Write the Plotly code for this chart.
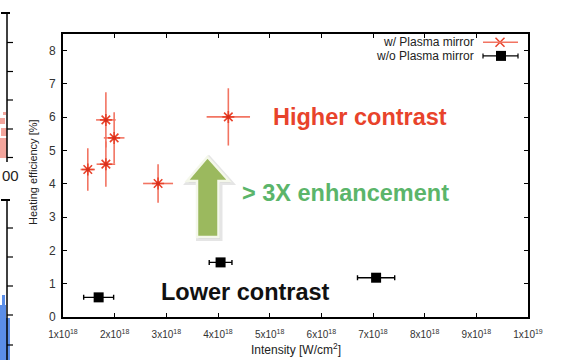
import plotly.graph_objects as go

# Heating efficiency vs. laser intensity, with and without a plasma mirror
intensity_pm = [1.48e18, 1.83e18, 1.83e18, 1.99e18, 2.84e18, 4.20e18]
intensity_pm_err = [0.14e18, 0.19e18, 0.18e18, 0.20e18, 0.29e18, 0.42e18]
efficiency_pm = [4.43, 5.92, 4.59, 5.38, 4.01, 6.01]
efficiency_pm_err = [0.64, 0.83, 0.68, 0.77, 0.58, 0.86]

intensity_nopm = [1.69e18, 4.05e18, 7.06e18]
intensity_nopm_err = [0.29e18, 0.22e18, 0.36e18]
efficiency_nopm = [0.59, 1.64, 1.18]

x_tick_vals = [1e18, 2e18, 3e18, 4e18, 5e18, 6e18, 7e18, 8e18, 9e18, 1e19]
x_tick_text = ["1x10<sup>18</sup>", "2x10<sup>18</sup>", "3x10<sup>18</sup>",
               "4x10<sup>18</sup>", "5x10<sup>18</sup>", "6x10<sup>18</sup>",
               "7x10<sup>18</sup>", "8x10<sup>18</sup>", "9x10<sup>18</sup>",
               "1x10<sup>19</sup>"]
y_tick_vals = [0, 1, 2, 3, 4, 5, 6, 7, 8]

series_names = ["w/ Plasma mirror", "w/o Plasma mirror"]

W, H = 565, 360
L, R, T, B = 63, 528, 34, 317

RED = "#e8432b"
RED_BAR = "#f27462"
GREEN_TXT = "#5bb56a"
ARROW = "#9bb95e"
FONT = "Liberation Sans, Arial, sans-serif"


def px(x):
    """Page pixel column -> paper fraction."""
    return (x - L) / (R - L)


def py(y):
    """Page pixel row -> paper fraction."""
    return (B - y) / (B - T)


fig = go.Figure()

fig.add_trace(go.Scatter(
    x=intensity_pm, y=efficiency_pm, mode="markers", name=series_names[0],
    marker=dict(symbol="asterisk-open", size=10, color=RED,
                line=dict(color=RED, width=1.6)),
    error_x=dict(type="data", array=intensity_pm_err, color=RED_BAR,
                 thickness=1.6, width=0),
    error_y=dict(type="data", array=efficiency_pm_err, color=RED_BAR,
                 thickness=1.6, width=0),
    showlegend=False,
))
fig.add_trace(go.Scatter(
    x=intensity_pm, y=efficiency_pm, mode="markers", showlegend=False,
    marker=dict(symbol="circle", size=4, color="#d9301c"),
    hoverinfo="skip",
))
fig.add_trace(go.Scatter(
    x=intensity_nopm, y=efficiency_nopm, mode="markers", name=series_names[1],
    marker=dict(symbol="square", size=10, color="black"),
    error_x=dict(type="data", array=intensity_nopm_err, color="black",
                 thickness=1.4, width=2.5),
    showlegend=False,
))

# Key samples on an overlay axis pair measured in page pixels
fig.add_trace(go.Scatter(
    x=[500], y=[42.3], xaxis="x2", yaxis="y2", mode="markers",
    marker=dict(symbol="x-thin-open", size=9, color=RED, line=dict(color=RED, width=1.5)),
    showlegend=False, hoverinfo="skip",
))
fig.add_trace(go.Scatter(
    x=[501], y=[55.9], xaxis="x2", yaxis="y2", mode="markers",
    marker=dict(symbol="square", size=10, color="black"),
    showlegend=False, hoverinfo="skip",
))


def pline(x0, y0, x1, y1, color, width):
    return dict(type="line", xref="paper", yref="paper",
                x0=px(x0), x1=px(x1), y0=py(y0), y1=py(y1),
                line=dict(color=color, width=width))


def prect(x0, y0, x1, y1, color):
    return dict(type="rect", xref="paper", yref="paper",
                x0=px(x0), x1=px(x1), y0=py(y0), y1=py(y1),
                fillcolor=color, line=dict(width=0), layer="below")


shapes = []
# key lines
shapes.append(pline(483, 42.3, 518, 42.3, RED_BAR, 1.5))
shapes.append(pline(483, 55.9, 518, 55.9, "black", 1.4))
for xx in (483, 518):
    shapes.append(pline(xx, 53.4, xx, 58.4, "black", 1.2))

# upward block arrow
arrow_pts = [(207.5, 157), (229, 181), (218.5, 181), (218.5, 237),
             (197, 237), (197, 181), (187, 181)]
shadow = "M " + " L ".join(f"{px(x + 1.5)},{py(y + 1.5)}" for x, y in arrow_pts) + " Z"
body = "M " + " L ".join(f"{px(x)},{py(y)}" for x, y in arrow_pts) + " Z"
shapes.append(dict(type="path", xref="paper", yref="paper", path=shadow,
                   fillcolor="rgba(0,0,0,0.12)", line=dict(color="rgba(0,0,0,0.10)", width=5)))
shapes.append(dict(type="path", xref="paper", yref="paper", path=body,
                   fillcolor=ARROW, line=dict(color="#f4f7ea", width=2.5)))

# fragments of neighbouring panels at the left edge
for (y0, y1, ticks) in [(13, 162, [42.5, 71.5, 100, 129, 157.5]),
                        (200, 362, [228, 257, 286, 315, 345])]:
    shapes.append(pline(7, y0, 7, y1, "black", 1.5))
    shapes.append(pline(1, y0, 10, y0, "black", 2))
    for ty in ticks:
        shapes.append(pline(7, ty, 13, ty, "black", 1.2))
for (bx, by, bw, bh) in [(0, 118, 5, 6), (1, 128, 6, 8), (0, 138, 7, 20), (3, 112, 3, 3)]:
    shapes.append(prect(bx, by, bx + bw, by + bh, "#f3a59c"))
for (bx, by, bw, bh) in [(0, 305, 6, 57), (6, 318, 4, 44), (2, 295, 3, 10)]:
    shapes.append(prect(bx, by, bx + bw, by + bh, "#5b8ee8"))


def ptext(x, y, text, size, color, xanchor="center", angle=0):
    return dict(x=px(x), y=py(y), xref="paper", yref="paper", text=text,
                showarrow=False, xanchor=xanchor, yanchor="middle", textangle=angle,
                font=dict(family=FONT, size=size, color=color))


annotations = [
    ptext(476, 42.3, series_names[0], 12, "#222", xanchor="right"),
    ptext(476, 55.9, series_names[1], 12, "#222", xanchor="right"),
    ptext(360, 117, "<b>Higher contrast</b>", 23.5, RED),
    ptext(345, 193, "<b>&gt; 3X enhancement</b>", 23.5, GREEN_TXT),
    ptext(245, 292, "<b>Lower contrast</b>", 23.5, "#111"),
    ptext(296, 349, "Intensity [W/cm<sup>2</sup>]", 12, "#222"),
    ptext(33, 172, "Heating efficiency [%]", 11, "#222", angle=-90),
    ptext(10, 175, "00", 15, "#222"),
]

fig.update_layout(
    width=W, height=H,
    margin=dict(l=L, r=W - R, t=T, b=H - B, pad=0),
    paper_bgcolor="white", plot_bgcolor="white",
    font=dict(family=FONT, color="#222"),
    xaxis=dict(range=[1e18, 1e19], tickvals=x_tick_vals, ticktext=x_tick_text,
               ticks="inside", ticklen=4, tickwidth=1.2, tickcolor="black",
               showline=True, linecolor="black", linewidth=1.6, mirror="ticks",
               showgrid=False, zeroline=False, ticklabelstandoff=7,
               tickfont=dict(family=FONT, size=10, color="#333")),
    yaxis=dict(range=[0, 8.5], tickvals=y_tick_vals,
               ticks="inside", ticklen=4, tickwidth=1.2, tickcolor="black",
               showline=True, linecolor="black", linewidth=1.6, mirror="ticks",
               showgrid=False, zeroline=False, ticklabelstandoff=3,
               tickfont=dict(family=FONT, size=12, color="#333")),
    xaxis2=dict(range=[L, R], domain=[0, 1], overlaying="x", visible=False,
                anchor="y2"),
    yaxis2=dict(range=[B, T], domain=[0, 1], overlaying="y", visible=False,
                anchor="x2"),
    shapes=shapes,
    annotations=annotations,
)

fig.write_html("out.html")
